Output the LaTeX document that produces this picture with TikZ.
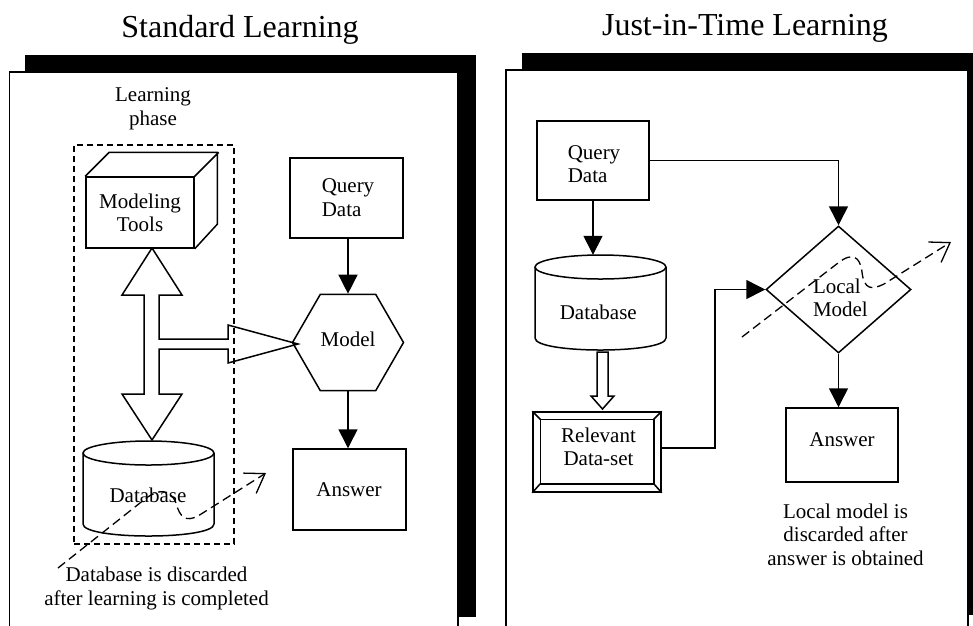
\documentclass[tikz,border=0pt]{standalone}
\usepackage{fontspec}
\setmainfont{Liberation Serif}
\usetikzlibrary{arrows.meta,calc,shapes.geometric}
\begin{document}
\begin{tikzpicture}[x=1pt,y=-1pt,
  txt/.style={font=\fontsize{21}{23.5}\selectfont, inner sep=0pt, align=center},
  txtl/.style={txt, align=left},
  ttl/.style={font=\fontsize{32}{36}\selectfont, inner sep=0pt, anchor=base},
  shp/.style={draw, line width=1.5pt, inner sep=0pt},
  lw/.style={line width=1.5pt, line join=miter},
  arr/.style={line width=1.5pt, -{Triangle[width=19pt,length=19pt]}},
  dsh/.style={line width=1.3pt, dash pattern=on 9pt off 5pt, -{Straight Barb[length=18pt,width=24pt]}},
  frame/.style={draw, fill=white, line width=1.9pt},
  hollow/.style={draw, line width=1.5pt, line join=miter}
]
\useasboundingbox (0,0) rectangle (973,625);
\clip (0,0) rectangle (973,625);

% panels
\fill (25,55) rectangle (476,617);
\path[frame] (9.5,72) rectangle (458,700);
\fill (522,53) rectangle (1000,615);
\path[frame] (506,70) rectangle (968,700);

% titles
\node[ttl] (t1) at (240,37) {Standard Learning};
\node[ttl] (t2) at (745,35) {Just-in-Time Learning};

% ---------- left panel ----------
\node[txt] (lpt) at (153,109) {Learning\\phase};

% modeling tools cube
\node[shp, minimum width=108pt, minimum height=71pt] (mt) at (140,212.5) {};
\draw[lw] (mt.north west) -- ++(24,-24) -- ++(108,0) -- ++(0,72) -- (mt.south east)
          (mt.north east) -- ++(24,-24);
\node[txt] (mtt) at (140,212.9) {Modeling\\Tools};

% query data
\node[shp, minimum width=113pt, minimum height=80pt] (qd1) at (346.5,198) {};
\node[txtl] (qd1t) at (348,197.7) {Query\\Data};

% model hexagon
\node[shp, regular polygon, regular polygon sides=6, minimum size=111pt] (model) at (348,342.5) {};
\node[txt] (modelt) at (348,339) {Model};

% answer
\node[shp, minimum width=113pt, minimum height=81pt] (ans1) at (349.5,489.5) {};
\node[txt] (ans1t) at (349,490) {Answer};

\draw[arr] (model.north |- qd1.south) -- (model.north);
\draw[arr] (model.south) -- (model.south |- ans1.north);

% hollow double arrow with branch
\draw[hollow] (152,248) -- (182,295) -- (159,295) -- (159,339) -- (228,339) -- (228,325)
  -- (298,344) -- (228,363) -- (228,349) -- (159,349) -- (159,394) -- (182,394)
  -- (152,440) -- (122,394) -- (144,394) -- (144,295) -- (122,295) -- cycle;

% database cylinder
\node[minimum width=131pt, minimum height=95pt, inner sep=0pt] (db1) at (148.5,488.5) {};
\draw[lw] (148.5,453) ellipse [x radius=65.5pt, y radius=12pt];
\draw[lw] (83,453) -- (83,524) .. controls (83,540) and (214,540) .. (214,524) -- (214,453);
\node[txt] (db1t) at (148,495) {Database};

% learning phase dashed box
\node[shp, dash pattern=on 6pt off 4pt, minimum width=160pt, minimum height=399pt] (lp) at (154,344.5) {};

% discard annotation
\coordinate (d1s) at (58,568);
\coordinate (d1e) at (266,473);
\draw[dsh] (d1s) -- (145,499) .. controls (158,489) and (170,488) .. (176,503)
  .. controls (180,518) and (186,522) .. (198,516) -- (d1e);
\node[txt] (dis1) at (156.5,588.7) {Database is discarded\\after learning is completed};

% ---------- right panel ----------
\node[shp, minimum width=112pt, minimum height=79pt] (qd2) at (593,160.5) {};
\node[txtl] (qd2t) at (594,163.9) {Query\\Data};

\node[minimum width=131pt, minimum height=95pt, inner sep=0pt] (db2) at (600.5,302.5) {};
\draw[lw] (600.5,267) ellipse [x radius=65.5pt, y radius=12pt];
\draw[lw] (535,267) -- (535,338) .. controls (535,354) and (666,354) .. (666,338) -- (666,267);
\node[txt] (db2t) at (598.3,312) {Database};

% small hollow arrow
\draw[hollow] (597,352) -- (608,352) -- (608,396) -- (614,396) -- (602.5,409)
  -- (591,396) -- (597,396) -- cycle;

% relevant data-set (framed box)
\node[shp, minimum width=128pt, minimum height=80pt] (rd) at (597,452) {};
\draw[lw] ($(rd.north west)+(8,8)$) rectangle ($(rd.south east)+(-8,-9)$);
\draw[lw] (rd.north west) -- +(8,8) (rd.north east) -- +(-8,8)
          (rd.south west) -- +(8,-9) (rd.south east) -- +(-8,-9);
\node[txt] (rdt) at (598.5,446.9) {Relevant\\Data-set};

% local model diamond
\node[shp, diamond, minimum width=145pt, minimum height=127pt] (lmd) at (838.5,289.5) {};
\node[txtl] (lmdt) at (840.4,297.9) {Local\\Model};

% answer
\node[shp, minimum width=112pt, minimum height=74pt] (ans2) at (842,445) {};
\node[txt] (ans2t) at (842,440) {Answer};

\draw[arr] (qd2.east) -| (lmd.north);
\draw[arr] (qd2.south) -- (qd2.south |- db2.north);
\draw[arr] ($(rd.east)+(0,-4)$) -- ++(53,0) |- (lmd.west);
\draw[arr] (lmd.south) -- (lmd.south |- ans2.north);

% discard annotation
\coordinate (d2s) at (742,337);
\coordinate (d2e) at (951,242);
\draw[dsh] (d2s) -- (838,263) .. controls (852,252) and (860,256) .. (862,272)
  .. controls (864,290) and (872,290) .. (884,284) -- (d2e);
\node[txt] (dis2) at (845.5,534.4) {Local model is\\discarded after\\answer is obtained};
\end{tikzpicture}
\end{document}
